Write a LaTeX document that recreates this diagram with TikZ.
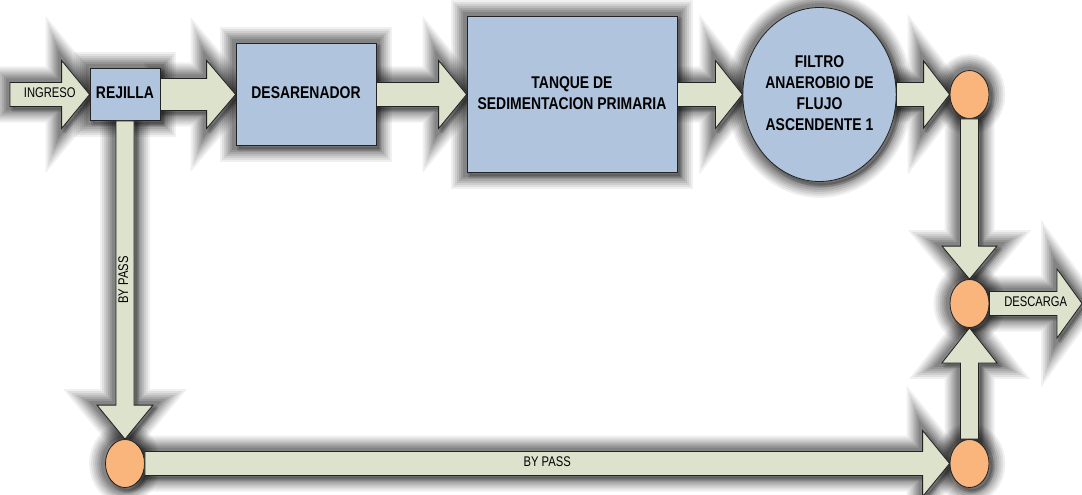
\documentclass[tikz,border=0pt]{standalone}
\usepackage{fontspec}
\setmainfont{Liberation Sans}
\usepackage{graphicx}
\usetikzlibrary{shapes.geometric, calc, backgrounds}

\definecolor{boxblue}{RGB}{176,196,222}
\definecolor{flowgreen}{RGB}{221,226,204}
\definecolor{jointorange}{RGB}{250,181,125}
\definecolor{edgegray}{RGB}{35,35,35}

% narrow lettering
\newcommand{\narrow}[2][.8]{\scalebox{#1}[1]{\begin{tabular}{@{}c@{}}#2\end{tabular}}}

\tikzset{
  box/.style={draw=edgegray, line width=.8pt, fill=boxblue, inner sep=0pt, font=\bfseries\fontsize{17}{21}\selectfont},
  tank/.style={box, ellipse},
  joint/.style={draw=edgegray, line width=.8pt, fill=jointorange, ellipse, minimum width=39pt, minimum height=48pt, inner sep=0pt},
  flow/.style={draw=edgegray, line width=.8pt, fill=flowgreen, line join=miter},
  flowlabel/.style={inner sep=0pt, font=\fontsize{14}{16}\selectfont},
  glow/.style={transform canvas={shift={(3pt,-3pt)}}, line join=round,
    preaction={draw=black, line width=32pt, opacity=.06},
    preaction={draw=black, line width=28pt, opacity=.07},
    preaction={draw=black, line width=24pt, opacity=.08},
    preaction={draw=black, line width=20pt, opacity=.09},
    preaction={draw=black, line width=16pt, opacity=.1},
    preaction={draw=black, line width=12pt, opacity=.11},
    preaction={draw=black, line width=8pt, opacity=.12},
    draw=black, fill=black, line width=4pt, opacity=.14}
}

% horizontal block arrow: from, to, half shaft, half head, head length
\newcommand{\flowh}[5]{%
  \begin{pgfonlayer}{background}
    \path[glow] let \p1=#1, \p2=#2 in ({\x1},{\y1+#3}) -- ({\x2-#5},{\y1+#3}) -- ({\x2-#5},{\y1+#4}) -- ({\x2},{\y1}) -- ({\x2-#5},{\y1-#4}) -- ({\x2-#5},{\y1-#3}) -- ({\x1},{\y1-#3}) -- cycle;
  \end{pgfonlayer}
  \draw[flow] let \p1=#1, \p2=#2 in ({\x1},{\y1+#3}) -- ({\x2-#5},{\y1+#3}) -- ({\x2-#5},{\y1+#4}) -- ({\x2},{\y1}) -- ({\x2-#5},{\y1-#4}) -- ({\x2-#5},{\y1-#3}) -- ({\x1},{\y1-#3}) -- cycle;}

% vertical block arrow: from, to, half shaft, half head, signed head length
\newcommand{\flowv}[5]{%
  \begin{pgfonlayer}{background}
    \path[glow] let \p1=#1, \p2=#2 in ({\x1+#3},{\y1}) -- ({\x1+#3},{\y2+(#5)}) -- ({\x1+#4},{\y2+(#5)}) -- ({\x1},{\y2}) -- ({\x1-#4},{\y2+(#5)}) -- ({\x1-#3},{\y2+(#5)}) -- ({\x1-#3},{\y1}) -- cycle;
  \end{pgfonlayer}
  \draw[flow] let \p1=#1, \p2=#2 in ({\x1+#3},{\y1}) -- ({\x1+#3},{\y2+(#5)}) -- ({\x1+#4},{\y2+(#5)}) -- ({\x1},{\y2}) -- ({\x1-#4},{\y2+(#5)}) -- ({\x1-#3},{\y2+(#5)}) -- ({\x1-#3},{\y1}) -- cycle;}

\begin{document}
\begin{tikzpicture}[x=1pt, y=1pt]

\useasboundingbox (0,0) rectangle (1082,-495);

\node[box, minimum width=70pt, minimum height=52pt] (rej) at (125,-94.5) {\narrow[.82]{REJILLA}};
\node[box, minimum width=140pt, minimum height=102pt] (des) at (306,-94.5) {\narrow[.82]{DESARENADOR}};
\node[box, minimum width=210pt, minimum height=156pt] (tank) at (572,-94.5) {\narrow[.82]{TANQUE DE\\SEDIMENTACION PRIMARIA}};
\node[tank, minimum width=139pt, minimum height=174pt] (fil) at (819.5,-94.5) {\narrow[.82]{FILTRO\\ANAEROBIO DE\\FLUJO\\ASCENDENTE 1}};

\node[joint] (c1) at (969.5,-94.5) {};
\node[joint] (c2) at (969.5,-303.5) {};
\node[joint] (c3) at (969.5,-463.5) {};
\node[joint] (c4) at (125,-463.5) {};

\coordinate (inpt) at (10,-94.5);
\coordinate (outpt) at (1082,-303.5);

\begin{pgfonlayer}{background}
  \foreach \nd in {rej,des,tank}
    \path[glow] (\nd.south west) rectangle (\nd.north east);
  \foreach \nd in {fil,c1,c2,c3,c4}
    \path[glow] let \p0=(\nd.center), \p1=(\nd.east), \p2=(\nd.north) in (\p0) ellipse [x radius=\x1-\x0, y radius=\y2-\y0];
\end{pgfonlayer}

\flowh{(inpt)}{(rej.west)}{12pt}{34pt}{28pt}
\flowh{(rej.east)}{(des.west)}{16pt}{34pt}{29pt}
\flowh{(des.east)}{(tank.west)}{12pt}{34pt}{28pt}
\flowh{(tank.east)}{(fil.west)}{12pt}{34pt}{27pt}
\flowh{(fil.east)}{(c1.west)}{12pt}{33.5pt}{26pt}
\flowv{(c1.south)}{(c2.north)}{9pt}{27.5pt}{33pt}
\flowv{(rej.south)}{(c4.north)}{9pt}{28pt}{34pt}
\flowh{(c4.east)}{(c3.west)}{12pt}{33pt}{27pt}
\flowv{(c3.north)}{(c2.south)}{9pt}{27.5pt}{-35pt}
\flowh{(c2.east)}{(outpt)}{12pt}{34.5pt}{25pt}

\node[flowlabel] (lbing) at ($(inpt)!.5!(rej.west)$) {\narrow{INGRESO}};
\node[flowlabel] (lbout) at ($(c2.east)!.5!(outpt)$) {\narrow{DESCARGA}};
\node[flowlabel, rotate=90] (lbbyv) at ($(rej.south)!.5!(c4.north)$) {\narrow{BY PASS}};
\node[flowlabel] (lbbyh) at ($(c4.east)!.5!(c3.west)$) {\narrow{BY PASS}};

\end{tikzpicture}
\end{document}
